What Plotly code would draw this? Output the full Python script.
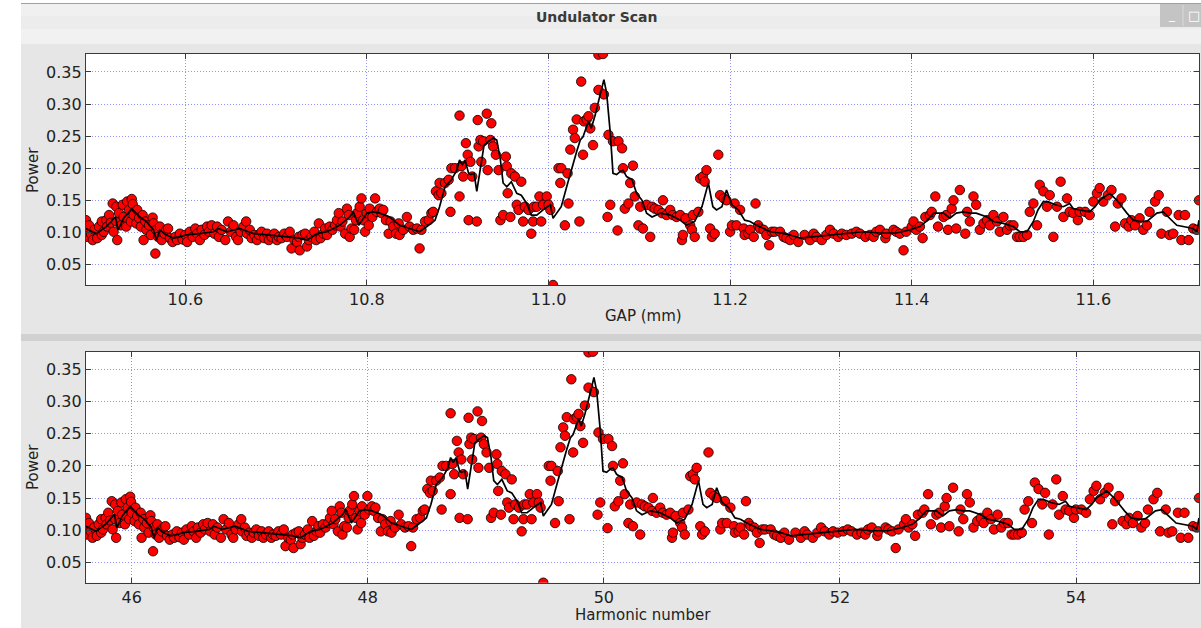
import plotly.graph_objects as go

# ---- scan readings: undulator gap (mm) and measured power ----
gap_mm = [
    10.4906, 10.4906, 10.492, 10.494, 10.496, 10.498, 10.500, 10.503, 10.505, 10.508,
    10.508, 10.510, 10.513, 10.514, 10.516, 10.518, 10.520, 10.521, 10.524, 10.524,
    10.525, 10.527, 10.529, 10.531, 10.532, 10.535, 10.536, 10.538, 10.540, 10.541,
    10.542, 10.543, 10.546, 10.547, 10.549, 10.551, 10.553, 10.554, 10.556, 10.557,
    10.560, 10.562, 10.564, 10.565, 10.567, 10.568, 10.570, 10.572, 10.574, 10.577,
    10.579, 10.581, 10.583, 10.586, 10.589, 10.591, 10.594, 10.597, 10.600, 10.602,
    10.605, 10.608, 10.611, 10.613, 10.616, 10.618, 10.621, 10.624, 10.626, 10.629,
    10.632, 10.635, 10.637, 10.640, 10.644, 10.647, 10.650, 10.653, 10.656, 10.658,
    10.661, 10.664, 10.667, 10.668, 10.671, 10.673, 10.676, 10.679, 10.681, 10.684,
    10.687, 10.690, 10.692, 10.695, 10.698, 10.701, 10.703, 10.706, 10.709, 10.712,
    10.715, 10.717, 10.720, 10.723, 10.725, 10.726, 10.729, 10.732, 10.734, 10.736,
    10.739, 10.742, 10.744, 10.747, 10.749, 10.752, 10.754, 10.756, 10.759, 10.762,
    10.765, 10.767, 10.769, 10.771, 10.773, 10.776, 10.778, 10.780, 10.781, 10.783,
    10.786, 10.788, 10.789, 10.792, 10.794, 10.796, 10.798, 10.800, 10.802, 10.803,
    10.806, 10.809, 10.811, 10.814, 10.816, 10.818, 10.821, 10.824, 10.826, 10.829,
    10.832, 10.835, 10.836, 10.840, 10.844, 10.847, 10.851, 10.855, 10.858, 10.860,
    10.864, 10.868, 10.871, 10.873, 10.876, 10.879, 10.880, 10.882, 10.886, 10.890,
    10.892, 10.893, 10.897, 10.902, 10.902, 10.904, 10.906, 10.909, 10.911, 10.912,
    10.914, 10.916, 10.921, 10.922, 10.923, 10.925, 10.926, 10.928, 10.932, 10.933,
    10.936, 10.937, 10.939, 10.942, 10.945, 10.947, 10.950, 10.953, 10.954, 10.955,
    10.958, 10.959, 10.963, 10.965, 10.967, 10.970, 10.972, 10.974, 10.978, 10.981,
    10.983, 10.984, 10.987, 10.990, 10.992, 10.994, 10.998, 11.000, 11.002, 11.005,
    11.011, 11.013, 11.014, 11.018, 11.021, 11.022, 11.024, 11.027, 11.029, 11.031,
    11.034, 11.036, 11.038, 11.039, 11.042, 11.044, 11.046, 11.049, 11.051, 11.055,
    11.055, 11.060, 11.061, 11.065, 11.066, 11.068, 11.071, 11.076, 11.077, 11.081,
    11.082, 11.084, 11.088, 11.090, 11.093, 11.095, 11.099, 11.101, 11.104, 11.108,
    11.112, 11.114, 11.117, 11.121, 11.125, 11.126, 11.130, 11.134, 11.137, 11.141,
    11.145, 11.147, 11.148, 11.151, 11.156, 11.158, 11.159, 11.161, 11.165, 11.167,
    11.170, 11.172, 11.174, 11.178, 11.180, 11.183, 11.187, 11.189, 11.193, 11.196,
    11.200, 11.202, 11.205, 11.207, 11.211, 11.215, 11.216, 11.220, 11.222, 11.226,
    11.228, 11.231, 11.233, 11.237, 11.240, 11.243, 11.246, 11.249, 11.255, 11.259,
    11.262, 11.266, 11.270, 11.275, 11.282, 11.288, 11.292, 11.295, 11.301, 11.306,
    11.310, 11.314, 11.319, 11.323, 11.328, 11.334, 11.339, 11.343, 11.349, 11.354,
    11.358, 11.361, 11.365, 11.371, 11.372, 11.380, 11.383, 11.387, 11.391, 11.394,
    11.400, 11.402, 11.405, 11.409, 11.412, 11.415, 11.420, 11.422, 11.426, 11.429,
    11.435, 11.438, 11.440, 11.444, 11.446, 11.449, 11.453, 11.459, 11.461, 11.464,
    11.468, 11.471, 11.475, 11.479, 11.483, 11.486, 11.490, 11.494, 11.497, 11.501,
    11.505, 11.508, 11.512, 11.516, 11.519, 11.523, 11.527, 11.530, 11.534, 11.538,
    11.541, 11.545, 11.549, 11.552, 11.556, 11.560, 11.564, 11.567, 11.571, 11.574,
    11.578, 11.583, 11.585, 11.591, 11.596, 11.600, 11.604, 11.607, 11.611, 11.616,
    11.620, 11.624, 11.627, 11.631, 11.635, 11.639, 11.642, 11.646, 11.651, 11.655,
    11.659, 11.662, 11.668, 11.672, 11.675, 11.681, 11.684, 11.688, 11.694, 11.697,
    11.701, 11.705, 11.710, 11.714, 11.7164,
]

power = [
    0.119, 0.093, 0.106, 0.111, 0.098, 0.088, 0.104, 0.091, 0.109, 0.117,
    0.096, 0.101, 0.119, 0.109, 0.127, 0.115, 0.145, 0.101, 0.140, 0.117,
    0.088, 0.130, 0.111, 0.143, 0.124, 0.109, 0.148, 0.135, 0.117, 0.152,
    0.144, 0.127, 0.114, 0.135, 0.122, 0.109, 0.127, 0.088, 0.117, 0.104,
    0.111, 0.096, 0.123, 0.114, 0.067, 0.104, 0.093, 0.109, 0.088, 0.098,
    0.104, 0.106, 0.091, 0.085, 0.093, 0.088, 0.098, 0.089, 0.096, 0.085,
    0.101, 0.093, 0.106, 0.098, 0.088, 0.104, 0.096, 0.109, 0.101, 0.111,
    0.098, 0.109, 0.093, 0.104, 0.088, 0.117, 0.101, 0.111, 0.093, 0.088,
    0.101, 0.109, 0.117, 0.098, 0.104, 0.091, 0.096, 0.088, 0.096, 0.101,
    0.091, 0.098, 0.088, 0.093, 0.098, 0.088, 0.093, 0.091, 0.098, 0.093,
    0.101, 0.075, 0.088, 0.085, 0.093, 0.072, 0.096, 0.098, 0.078, 0.088,
    0.093, 0.101, 0.088, 0.114, 0.091, 0.098, 0.106, 0.096, 0.109, 0.104,
    0.111, 0.119, 0.130, 0.109, 0.117, 0.098, 0.137, 0.127, 0.093, 0.106,
    0.104, 0.119, 0.130, 0.140, 0.153, 0.119, 0.101, 0.130, 0.111, 0.137,
    0.124, 0.153, 0.132, 0.137, 0.130, 0.135, 0.119, 0.098, 0.117, 0.109,
    0.098, 0.114, 0.096, 0.104, 0.124, 0.109, 0.104, 0.106, 0.075, 0.104,
    0.117, 0.119, 0.130, 0.132, 0.164, 0.158, 0.177, 0.161, 0.177, 0.182,
    0.132, 0.200, 0.200, 0.282, 0.156, 0.203, 0.187, 0.239, 0.221, 0.119,
    0.210, 0.187, 0.117, 0.275, 0.234, 0.244, 0.210, 0.242, 0.285, 0.197,
    0.244, 0.270, 0.234, 0.221, 0.197, 0.119, 0.127, 0.218, 0.203, 0.161,
    0.124, 0.192, 0.187, 0.143, 0.135, 0.179, 0.117, 0.140, 0.135, 0.098,
    0.117, 0.140, 0.140, 0.156, 0.117, 0.143, 0.156, 0.143, 0.135, 0.018,
    0.200, 0.177, 0.200, 0.111, 0.192, 0.145, 0.229, 0.260, 0.247, 0.276,
    0.117, 0.335, 0.221, 0.273, 0.276, 0.281, 0.262, 0.236, 0.294, 0.322,
    0.377, 0.378, 0.315, 0.124, 0.252, 0.143, 0.242, 0.103, 0.242, 0.231,
    0.200, 0.137, 0.145, 0.177, 0.204, 0.156, 0.111, 0.140, 0.106, 0.143,
    0.093, 0.140, 0.137, 0.135, 0.130, 0.150, 0.127, 0.135, 0.127, 0.124,
    0.127, 0.088, 0.096, 0.122, 0.111, 0.104, 0.127, 0.093, 0.132, 0.184,
    0.187, 0.179, 0.197, 0.106, 0.093, 0.098, 0.221, 0.158, 0.153, 0.150,
    0.101, 0.111, 0.145, 0.111, 0.135, 0.106, 0.096, 0.098, 0.104, 0.093,
    0.145, 0.111, 0.106, 0.104, 0.096, 0.080, 0.101, 0.101, 0.101, 0.093,
    0.091, 0.088, 0.096, 0.085, 0.096, 0.088, 0.098, 0.093, 0.088, 0.096,
    0.104, 0.098, 0.093, 0.098, 0.096, 0.098, 0.101, 0.098, 0.093, 0.096,
    0.093, 0.101, 0.104, 0.091, 0.098, 0.104, 0.101, 0.098, 0.072, 0.101,
    0.109, 0.117, 0.104, 0.109, 0.091, 0.124, 0.127, 0.132, 0.156, 0.109,
    0.124, 0.127, 0.104, 0.137, 0.150, 0.106, 0.166, 0.098, 0.132, 0.117,
    0.156, 0.143, 0.104, 0.114, 0.119, 0.111, 0.127, 0.117, 0.101, 0.124,
    0.104, 0.111, 0.111, 0.093, 0.093, 0.093, 0.096, 0.132, 0.145, 0.111,
    0.174, 0.164, 0.140, 0.158, 0.093, 0.140, 0.179, 0.124, 0.153, 0.132,
    0.130, 0.119, 0.132, 0.132, 0.127, 0.148, 0.161, 0.169, 0.148, 0.158,
    0.166, 0.109, 0.145, 0.153, 0.114, 0.109, 0.119, 0.111, 0.122, 0.104,
    0.111, 0.132, 0.148, 0.158, 0.098, 0.132, 0.096, 0.098, 0.127, 0.088,
    0.127, 0.088, 0.106, 0.104, 0.150,
]

# ---- running average of the power signal ----
smooth_gap = [
    10.4906, 10.502, 10.513, 10.523, 10.526, 10.532, 10.541, 10.550, 10.557, 10.565,
    10.568, 10.572, 10.579, 10.587, 10.594, 10.601, 10.616, 10.631, 10.636, 10.646,
    10.660, 10.675, 10.690, 10.708, 10.726, 10.734, 10.745, 10.756, 10.770, 10.781,
    10.785, 10.791, 10.800, 10.807, 10.814, 10.825, 10.836, 10.847, 10.858, 10.866,
    10.875, 10.880, 10.886, 10.893, 10.899, 10.902, 10.905, 10.908, 10.912, 10.914,
    10.918, 10.921, 10.925, 10.929, 10.934, 10.939, 10.943, 10.947, 10.950, 10.954,
    10.959, 10.965, 10.970, 10.976, 10.981, 10.987, 10.994, 11.002, 11.005, 11.009,
    11.014, 11.020, 11.025, 11.031, 11.035, 11.038, 11.044, 11.047, 11.051, 11.055,
    11.058, 11.061, 11.064, 11.068, 11.071, 11.075, 11.079, 11.082, 11.086, 11.092,
    11.097, 11.103, 11.108, 11.114, 11.123, 11.134, 11.145, 11.152, 11.161, 11.169,
    11.176, 11.181, 11.185, 11.191, 11.196, 11.202, 11.209, 11.216, 11.222, 11.229,
    11.237, 11.244, 11.255, 11.266, 11.277, 11.292, 11.310, 11.328, 11.347, 11.365,
    11.383, 11.398, 11.409, 11.416, 11.424, 11.435, 11.442, 11.449, 11.457, 11.464,
    11.471, 11.483, 11.490, 11.501, 11.512, 11.519, 11.527, 11.534, 11.539, 11.545,
    11.550, 11.558, 11.567, 11.574, 11.578, 11.585, 11.596, 11.602, 11.607, 11.618,
    11.626, 11.637, 11.644, 11.652, 11.659, 11.670, 11.677, 11.684, 11.692, 11.710,
    11.714, 11.7164,
]

smooth_power = [
    0.106, 0.098, 0.109, 0.124, 0.104, 0.122, 0.137, 0.124, 0.117, 0.104,
    0.088, 0.104, 0.096, 0.091, 0.093, 0.096, 0.098, 0.101, 0.106, 0.101,
    0.106, 0.098, 0.096, 0.093, 0.091, 0.088, 0.098, 0.101, 0.111, 0.124,
    0.132, 0.111, 0.130, 0.132, 0.130, 0.124, 0.111, 0.106, 0.101, 0.109,
    0.119, 0.140, 0.171, 0.182, 0.197, 0.213, 0.205, 0.213, 0.192, 0.190,
    0.192, 0.164, 0.203, 0.236, 0.242, 0.247, 0.244, 0.213, 0.177, 0.171,
    0.179, 0.161, 0.158, 0.145, 0.127, 0.127, 0.135, 0.143, 0.122, 0.130,
    0.140, 0.171, 0.197, 0.226, 0.244, 0.249, 0.273, 0.262, 0.281, 0.302,
    0.320, 0.338, 0.317, 0.255, 0.192, 0.190, 0.195, 0.197, 0.187, 0.182,
    0.161, 0.150, 0.130, 0.124, 0.130, 0.127, 0.119, 0.111, 0.117, 0.140,
    0.177, 0.140, 0.135, 0.140, 0.166, 0.143, 0.135, 0.119, 0.117, 0.111,
    0.106, 0.101, 0.099, 0.096, 0.091, 0.093, 0.096, 0.098, 0.101, 0.099,
    0.099, 0.104, 0.109, 0.117, 0.130, 0.130, 0.122, 0.130, 0.132, 0.130,
    0.130, 0.124, 0.117, 0.114, 0.109, 0.101, 0.101, 0.117, 0.135, 0.148,
    0.148, 0.143, 0.140, 0.145, 0.137, 0.135, 0.132, 0.140, 0.150, 0.161,
    0.150, 0.130, 0.119, 0.117, 0.117, 0.130, 0.132, 0.122, 0.111, 0.106,
    0.101, 0.119,
]

# Harmonic-number calibration of the gap axis (end points + curvature)
GAP_LO, GAP_HI = 10.4906, 11.7164
HARM_LO, HARM_HI = 45.613, 55.042
HARM_CURV = 0.036


def gap_to_harmonic(g):
    u = (g - GAP_LO) / (GAP_HI - GAP_LO)
    return HARM_LO + (HARM_HI - HARM_LO) * (u + HARM_CURV * u * (u - 1.0))


harm = [gap_to_harmonic(g) for g in gap_mm]
smooth_harm = [gap_to_harmonic(g) for g in smooth_gap]

W, H = 1201, 628
FONT = "DejaVu Sans"


def fx(px):
    return px / W


def fy(py):
    return 1.0 - py / H


marker = dict(color="#ff0000", size=9.5, line=dict(color="black", width=0.8))
trend = dict(color="black", width=1.7)

fig = go.Figure()
fig.add_trace(go.Scatter(x=gap_mm, y=power, mode="markers", marker=marker,
                         xaxis="x", yaxis="y", hoverinfo="skip"))
fig.add_trace(go.Scatter(x=smooth_gap, y=smooth_power, mode="lines", line=trend,
                         xaxis="x", yaxis="y", hoverinfo="skip"))
fig.add_trace(go.Scatter(x=harm, y=power, mode="markers", marker=marker,
                         xaxis="x2", yaxis="y2", hoverinfo="skip"))
fig.add_trace(go.Scatter(x=smooth_harm, y=smooth_power, mode="lines", line=trend,
                         xaxis="x2", yaxis="y2", hoverinfo="skip"))

axis_style = dict(
    showline=True, linecolor="#3a3a3a", linewidth=1.3, mirror="allticks",
    ticks="inside", ticklen=5, tickwidth=1, tickcolor="#3a3a3a",
    showgrid=True, gridcolor="rgba(110,110,255,0.75)", griddash="1px,2px", gridwidth=1,
    zeroline=False, tickfont=dict(family=FONT, size=16, color="#222222"),
)

x_dom = [fx(86), fx(1199)]
top_dom = [fy(285), fy(54)]
bot_dom = [fy(582.7), fy(351.7)]
y_range = [0.018, 0.378]

fig.update_layout(
    width=W, height=H, margin=dict(l=0, r=0, t=0, b=0),
    paper_bgcolor="#e6e6e6", plot_bgcolor="white", showlegend=False,
    xaxis=dict(axis_style, domain=x_dom, anchor="y", range=[GAP_LO, GAP_HI],
               tick0=10.6, dtick=0.2, tickformat=".1f"),
    yaxis=dict(axis_style, domain=top_dom, anchor="x", range=y_range,
               tick0=0.05, dtick=0.05, tickformat=".2f"),
    xaxis2=dict(axis_style, domain=x_dom, anchor="y2", range=[HARM_LO, HARM_HI],
                tick0=46, dtick=2, tickformat="d"),
    yaxis2=dict(axis_style, domain=bot_dom, anchor="x2", range=y_range,
                tick0=0.05, dtick=0.05, tickformat=".2f"),
)

# window frame: title bar, tool strip, splitter
shapes = [
    dict(x0=0, x1=fx(21), y0=0, y1=1, fillcolor="white"),
    dict(x0=0, x1=1, y0=fy(3), y1=1, fillcolor="white"),
    dict(x0=fx(21), x1=1, y0=fy(29), y1=fy(3), fillcolor="#ececec"),
    dict(x0=fx(21), x1=1, y0=fy(16), y1=fy(4), fillcolor="#f0f0f0"),
    dict(x0=fx(21), x1=1, y0=fy(44), y1=fy(29), fillcolor="#f1f1f1"),
    dict(x0=fx(21), x1=1, y0=fy(341), y1=fy(334), fillcolor="#d1d1d1"),
    dict(x0=fx(1160), x1=1, y0=fy(27), y1=fy(4), fillcolor="#c4c4c4"),
]
for s in shapes:
    s.update(type="rect", xref="paper", yref="paper", line=dict(width=0), layer="below")
shapes.append(dict(type="line", xref="paper", yref="paper", x0=fx(21), x1=1,
                   y0=fy(3.5), y1=fy(3.5), line=dict(color="#a0a0a0", width=1)))
shapes.append(dict(type="line", xref="paper", yref="paper", x0=fx(1183), x1=fx(1183),
                   y0=fy(26), y1=fy(5), line=dict(color="#dadada", width=1)))
fig.update_layout(shapes=shapes)

ann = [
    dict(text="Undulator Scan", x=fx(596), y=fy(16.5),
         font=dict(family=FONT, size=14, color="#3a3a3a", weight="bold")),
    dict(text="_", x=fx(1172), y=fy(15), font=dict(family=FONT, size=12, color="white")),
    dict(text="\u25a1", x=fx(1194), y=fy(15), font=dict(family=FONT, size=13, color="white")),
    dict(text="GAP (mm)", x=fx(643), y=fy(316), font=dict(family=FONT, size=15, color="#222222")),
    dict(text="Harmonic number", x=fx(643), y=fy(615), font=dict(family=FONT, size=15, color="#222222")),
    dict(text="Power", x=fx(33), y=fy(170), textangle=-90, font=dict(family=FONT, size=15, color="#222222")),
    dict(text="Power", x=fx(33), y=fy(467), textangle=-90, font=dict(family=FONT, size=15, color="#222222")),
]
for a in ann:
    a.update(xref="paper", yref="paper", showarrow=False, xanchor="center", yanchor="middle")
fig.update_layout(annotations=ann)

fig.write_html("out.html")
